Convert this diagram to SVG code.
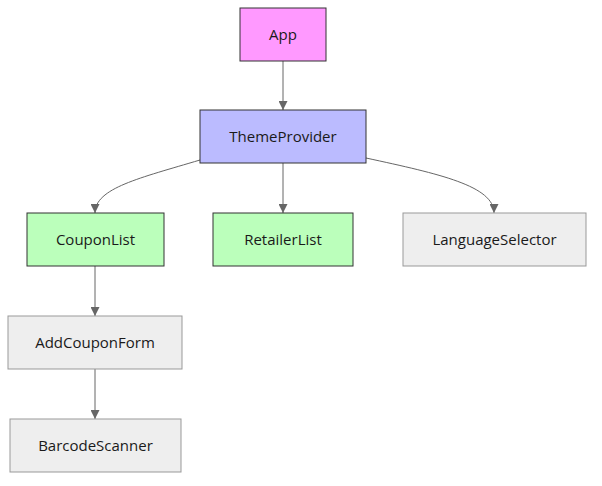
<svg xmlns="http://www.w3.org/2000/svg" width="602" height="486" viewBox="0 0 602 486">
<style>
.node rect{stroke-width:1}
.node text{font-family:"Open Sans","Noto Sans",sans-serif;font-size:15px;fill:#1a1a1a;text-anchor:middle;dominant-baseline:central}
.app rect{fill:#ff99ff;stroke:#333}
.theme rect{fill:#bbbbff;stroke:#333}
.green rect{fill:#bbffbb;stroke:#333}
.grey rect{fill:#eeeeee;stroke:#999}
.edge{fill:none;stroke:#666;stroke-width:1;marker-end:url(#arrow)}
</style>
<defs>
<marker id="arrow" viewBox="0 0 10 10" refX="10" refY="5" markerWidth="9" markerHeight="9" markerUnits="userSpaceOnUse" orient="auto">
<path d="M0,0 L10,5 L0,10 z" fill="#666"/>
</marker>
</defs>
<rect width="602" height="486" fill="#ffffff"/>
<g id="connectors">
<path class="edge" d="M283,61 L283,110"/>
<path class="edge" d="M200,160 C140,178 95,188 95,213"/>
<path class="edge" d="M283,163 L283,213"/>
<path class="edge" d="M366,158 C440,174 494,186 494,213"/>
<path class="edge" d="M95,266 L95,316"/>
<path class="edge" d="M95,369 L95,419"/>
</g>
<g id="App" class="node app"><rect x="240" y="8" width="86" height="53"/><text x="283" y="33.5">App</text></g>
<g id="ThemeProvider" class="node theme"><rect x="200" y="110" width="166" height="53"/><text x="283" y="135.5">ThemeProvider</text></g>
<g id="CouponList" class="node green"><rect x="27" y="213" width="137" height="53"/><text x="95.5" y="238.5">CouponList</text></g>
<g id="RetailerList" class="node green"><rect x="213" y="213" width="140" height="53"/><text x="283" y="238.5">RetailerList</text></g>
<g id="LanguageSelector" class="node grey"><rect x="403" y="213" width="183" height="53"/><text x="494.5" y="238.5">LanguageSelector</text></g>
<g id="AddCouponForm" class="node grey"><rect x="8" y="316" width="174" height="53"/><text x="95" y="341.5">AddCouponForm</text></g>
<g id="BarcodeScanner" class="node grey"><rect x="10" y="419" width="171" height="53"/><text x="95.5" y="444.5">BarcodeScanner</text></g>
</svg>
